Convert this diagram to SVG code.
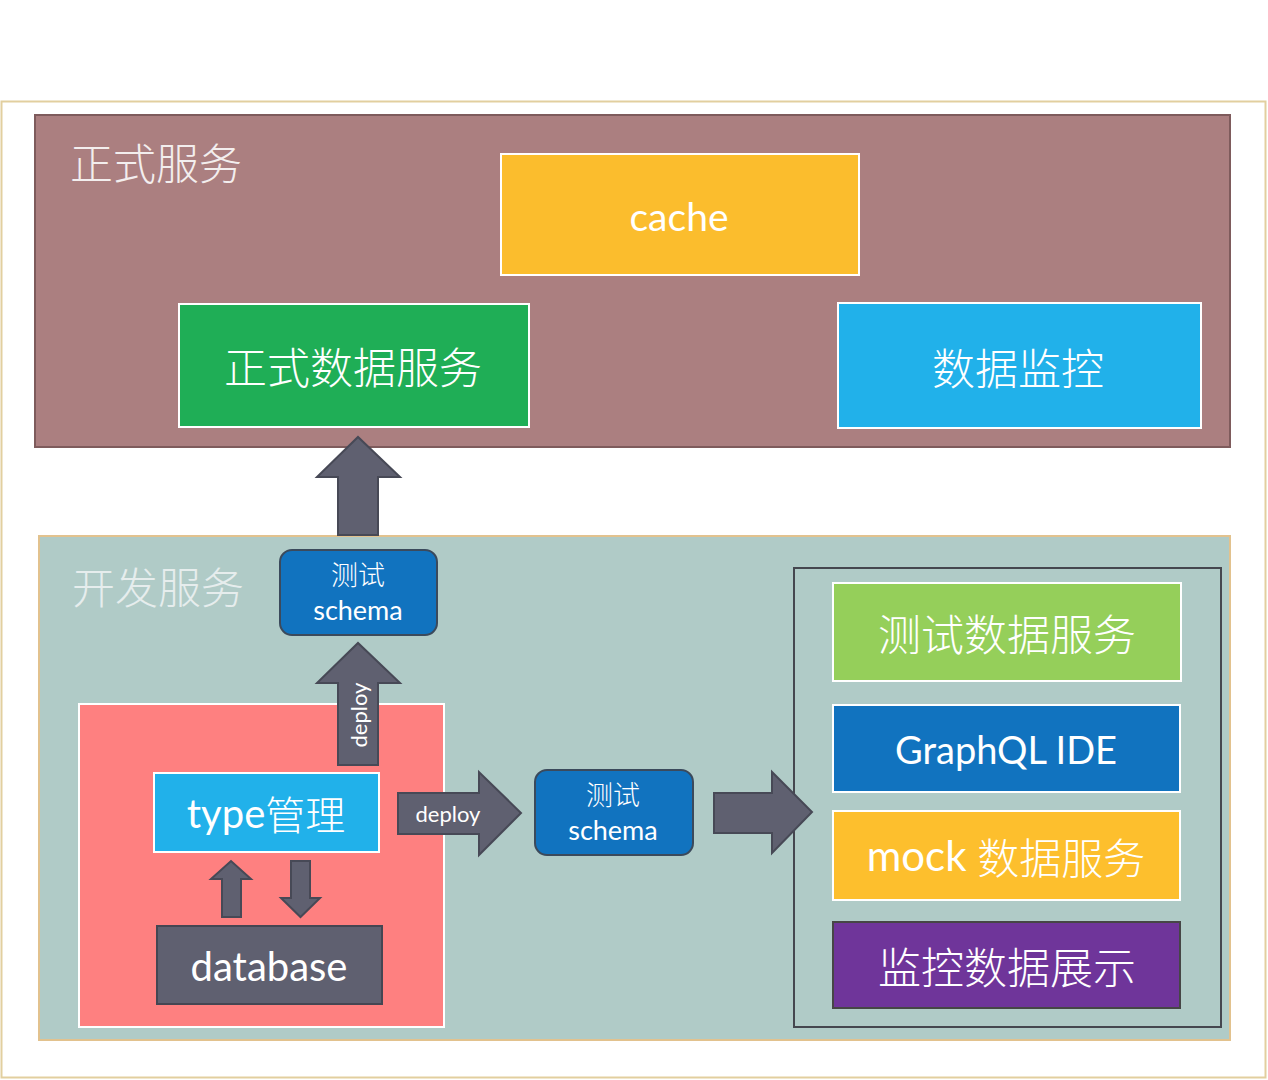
<svg xmlns="http://www.w3.org/2000/svg" width="1268" height="1080" viewBox="0 0 1268 1080">
<style>
.t{font-family:Lato,"Noto Sans CJK SC",sans-serif;fill:#ffffff;text-anchor:middle;dominant-baseline:central}
.cjk{font-family:"Noto Sans CJK SC",sans-serif;font-weight:300}
.box{stroke:#ffffff;stroke-width:2}
.arrow{fill:#5f6070;stroke:#474956;stroke-width:2;stroke-linejoin:miter}
.rbox{fill:#1173bf;stroke:#3b4a5c;stroke-width:2}
</style>
<rect x="0" y="0" width="1268" height="1080" fill="#ffffff"/>
<rect x="1.5" y="101.5" width="1264" height="976" fill="#ffffff" stroke="#e2cf9f" stroke-width="2"/>

<g id="prod-panel">
<rect x="35" y="115" width="1195" height="332" fill="#ab7f80" stroke="#7e5b5c" stroke-width="2"/>
<text class="t cjk" x="70" y="161" style="text-anchor:start;fill:#f3eeee" font-size="43">正式服务</text>
</g>
<g id="cache">
<rect class="box" x="501" y="154" width="358" height="121" fill="#fbbd2d"/>
<text class="t" x="679" y="216" font-size="39">cache</text>
</g>
<g id="prod-data">
<rect class="box" x="179" y="304" width="350" height="123" fill="#1fae56"/>
<text class="t cjk" x="353" y="365" font-size="43">正式数据服务</text>
</g>
<g id="monitor">
<rect class="box" x="838" y="303" width="363" height="125" fill="#21b1ea"/>
<text class="t cjk" x="1018" y="366" font-size="43">数据监控</text>
</g>

<g id="dev-panel">
<rect x="39" y="536" width="1191" height="504" fill="#b0cbc7" stroke="#e2c28e" stroke-width="2"/>
<text class="t cjk" x="72" y="585" style="text-anchor:start;fill:#e6eded" font-size="43">开发服务</text>
</g>
<g id="service-group">
<rect x="794" y="568" width="427" height="459" fill="none" stroke="#45474f" stroke-width="2"/>
</g>
<g id="type-area">
<rect x="79" y="704" width="365" height="323" fill="#fe8080" stroke="#ffffff" stroke-width="2"/>
</g>

<g id="connectors">
<polygon class="arrow" points="338,535 338,477 317,477 358,437 400,477 378,477 378,535"/>
<polygon class="arrow" points="338,765 338,683 317,683 358,643 400,683 378,683 378,765"/>
<text class="t" x="358" y="715" font-size="22" transform="rotate(-90 358 715)">deploy</text>
<polygon class="arrow" points="398,793 479,793 479,772 521,813 479,855 479,834 398,834"/>
<text class="t" x="448" y="813" font-size="22">deploy</text>
<polygon class="arrow" points="714,793 772,793 772,772 812,812 772,853 772,833 714,833"/>
<polygon class="arrow" points="222,917 222,879 211,879 231,861 251,879 241,879 241,917"/>
<polygon class="arrow" points="291,861 310,861 310,898 320,898 300.5,917 281,898 291,898"/>
</g>

<g id="schema-top">
<rect class="rbox" x="280" y="550" width="157" height="85" rx="12"/>
<text class="t cjk" x="358" y="573" font-size="27">测试</text>
<text class="t" x="358" y="609" font-size="27">schema</text>
</g>
<g id="schema-mid">
<rect class="rbox" x="535" y="770" width="158" height="85" rx="12"/>
<text class="t cjk" x="613" y="793" font-size="27">测试</text>
<text class="t" x="613" y="829" font-size="27">schema</text>
</g>
<g id="type-mgmt">
<rect class="box" x="154" y="773" width="225" height="79" fill="#21b1ea"/>
<text class="t" x="266" y="813" font-size="40">type<tspan class="cjk">管理</tspan></text>
</g>
<g id="database">
<rect x="157" y="926" width="225" height="78" fill="#5f6070" stroke="#454652" stroke-width="2"/>
<text class="t" x="269" y="966" font-size="40">database</text>
</g>

<g id="test-data">
<rect class="box" x="833" y="583" width="348" height="98" fill="#95cf5a"/>
<text class="t cjk" x="1007" y="632" font-size="43">测试数据服务</text>
</g>
<g id="graphql-ide">
<rect class="box" x="833" y="705" width="347" height="87" fill="#1173bf"/>
<text class="t" x="1006" y="749" font-size="38">GraphQL IDE</text>
</g>
<g id="mock-data">
<rect class="box" x="833" y="811" width="347" height="89" fill="#fdbf2d"/>
<text class="t" x="1006" y="855" font-size="42">mock <tspan class="cjk">数据服务</tspan></text>
</g>
<g id="monitor-display">
<rect x="833" y="922" width="347" height="86" fill="#6f359a" stroke="#464646" stroke-width="2"/>
<text class="t cjk" x="1007" y="965" font-size="43">监控数据展示</text>
</g>
</svg>
